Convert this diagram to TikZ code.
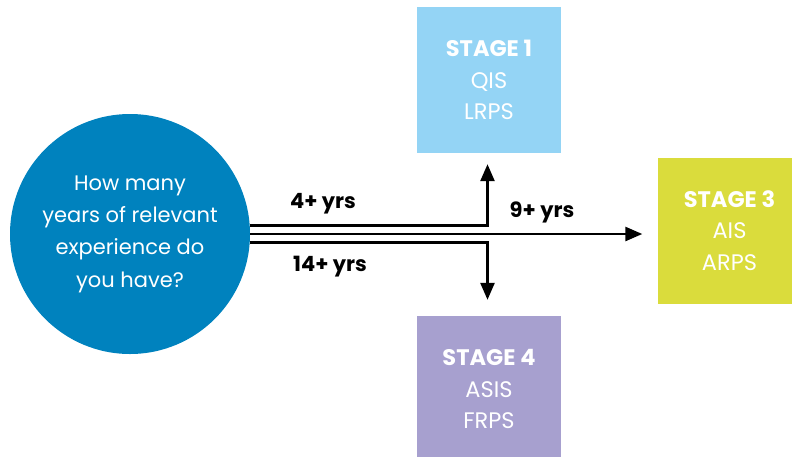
\documentclass[tikz,border=0pt]{standalone}
\usepackage{fontspec}
\setmainfont{Poppins}
\usetikzlibrary{arrows.meta,calc}
\definecolor{qblue}{HTML}{0082BE}
\definecolor{sone}{HTML}{94D4F5}
\definecolor{sthree}{HTML}{DADC3C}
\definecolor{sfour}{HTML}{A7A0CF}
\tikzset{
  stagebox/.style={minimum width=144pt,minimum height=146pt,inner sep=0pt,text=white,align=center,font=\fontsize{22.5}{31.5}\selectfont},
  flow/.style={line width=2.6pt,draw=black},
  tip/.style={-{Triangle[width=14pt,length=17pt]}},
  yrs/.style={font=\fontsize{21}{22}\selectfont\bfseries,text=black,inner sep=0pt}
}
\begin{document}
\begin{tikzpicture}[x=1pt,y=-1pt]
\clip (0,0) rectangle (792,456);
\node[circle,fill=qblue,minimum size=240pt,inner sep=0pt,text=white,align=center,font=\fontsize{21}{32.3}\selectfont] (q) at (130,234) {How many\\years of relevant\\experience do\\you have?};
\node[stagebox,fill=sone] (s1) at (489,80) {\textbf{STAGE 1}\\QIS\\LRPS};
\node[stagebox,fill=sthree] (s3) at (729.5,230.5) {\textbf{STAGE 3}\\AIS\\ARPS};
\node[stagebox,fill=sfour] (s4) at (489,389) {\textbf{STAGE 4}\\ASIS\\FRPS};
\coordinate (j) at (487.5,234);
\draw[flow,tip,shorten >=11pt] (q.4.5) -| (j |- s1.south);
\draw[flow,tip,shorten >=16pt] (q.-4.5) -| (j |- s4.north);
\draw[flow,tip,shorten >=15pt] (q.east) -- (s3.west |- q.east);
\node[yrs] (l4) at (323,204) {4+ yrs};
\node[yrs] (l14) at (330,267) {14+ yrs};
\node[yrs] (l9) at (542,212) {9+ yrs};
\end{tikzpicture}
\end{document}
